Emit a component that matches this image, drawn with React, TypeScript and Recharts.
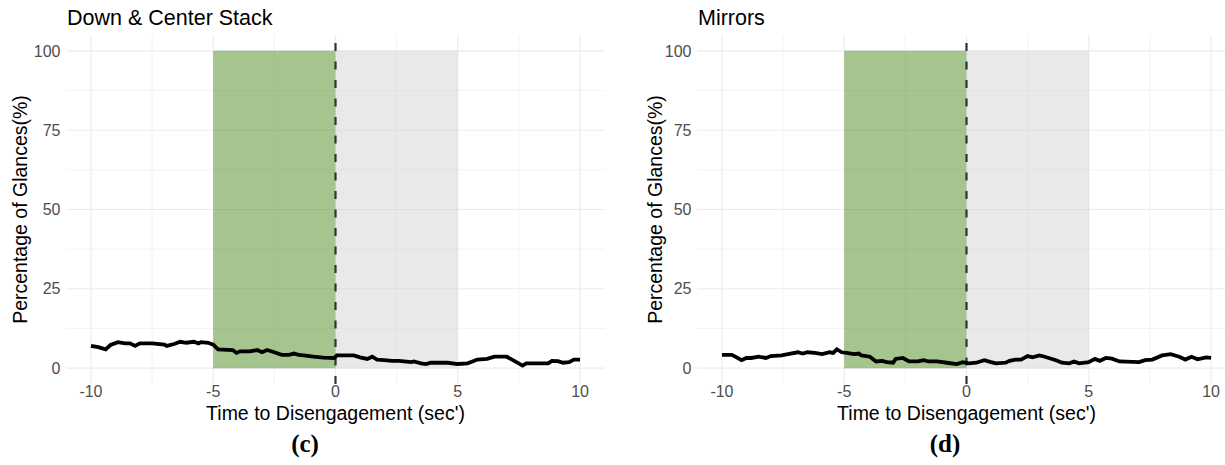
import React from 'react';
import {
  ComposedChart,
  Line,
  XAxis,
  YAxis,
  CartesianGrid,
  ReferenceArea,
  ReferenceLine,
} from 'recharts';

// axis breaks (ggplot style major + minor grid)
const xTicks = [-10, -5, 0, 5, 10];
const yTicks = [0, 25, 50, 75, 100];
const xMinor = [-7.5, -2.5, 2.5, 7.5];
const yMinor = [12.5, 37.5, 62.5, 87.5];

// (c) Down & Center Stack
const downTimes = [
  -10, -9.7, -9.4, -9.2, -8.9, -8.6, -8.4, -8.2, -8.0, -7.5,
  -7.0, -6.9, -6.6, -6.35, -6.1, -5.8, -5.6, -5.5, -5.2, -5.0,
  -4.8, -4.2, -4.05, -3.9, -3.5, -3.2, -3.0, -2.8, -2.5, -2.2,
  -1.9, -1.7, -1.5, -1.3, -0.9, -0.5, -0.05, 0.05, 0.75, 1.0,
  1.3, 1.5, 1.7, 2.0, 2.3, 2.6, 3.1, 3.2, 3.5, 3.7,
  3.9, 4.6, 5.0, 5.4, 5.6, 5.8, 6.2, 6.5, 7.0, 7.4,
  7.65, 7.8, 8.2, 8.7, 8.85, 9.1, 9.3, 9.55, 9.75, 10,
];
const downValues = [
  7.0, 6.6, 5.9, 7.3, 8.2, 7.8, 7.8, 7.0, 7.8, 7.8,
  7.4, 7.0, 7.6, 8.3, 8.0, 8.3, 7.8, 8.2, 8.0, 7.4,
  5.9, 5.7, 4.8, 5.3, 5.3, 5.7, 5.0, 5.7, 5.0, 4.2,
  4.2, 4.6, 4.2, 4.0, 3.6, 3.3, 3.2, 4.0, 4.0, 3.4,
  2.9, 3.6, 2.7, 2.5, 2.3, 2.3, 1.9, 2.1, 1.5, 1.3,
  1.7, 1.7, 1.3, 1.5, 2.1, 2.7, 2.9, 3.6, 3.6, 1.9,
  0.8, 1.5, 1.5, 1.5, 2.3, 2.2, 1.7, 1.9, 2.7, 2.7,
];

// (d) Mirrors
const mirrorTimes = [
  -10, -9.6, -9.4, -9.2, -9.0, -8.8, -8.5, -8.2, -8.0, -7.56,
  -7.3, -6.9, -6.7, -6.5, -6.2, -5.9, -5.6, -5.45, -5.3, -5.1,
  -4.9, -4.6, -4.4, -4.3, -3.95, -3.7, -3.45, -3.25, -3.0, -2.9,
  -2.6, -2.35, -2.0, -1.75, -1.55, -1.2, -0.8, -0.4, -0.15, 0.1,
  0.4, 0.73, 1.0, 1.2, 1.6, 1.76, 2.0, 2.23, 2.5, 2.7,
  2.98, 3.2, 3.66, 3.9, 4.2, 4.4, 4.6, 5.0, 5.25, 5.45,
  5.7, 5.95, 6.25, 7.06, 7.3, 7.6, 8.0, 8.35, 8.7, 8.95,
  9.2, 9.45, 9.8, 10,
];
const mirrorValues = [
  4.2, 4.2, 3.4, 2.5, 3.2, 3.2, 3.6, 3.2, 3.8, 4.0,
  4.4, 5.0, 4.6, 5.0, 4.8, 4.4, 5.0, 4.8, 5.9, 5.0,
  4.8, 4.4, 4.6, 4.0, 3.6, 2.1, 2.3, 1.9, 1.7, 2.9,
  3.2, 2.1, 2.1, 2.5, 2.1, 2.1, 1.7, 1.3, 1.9, 1.5,
  1.7, 2.5, 1.9, 1.5, 1.7, 2.3, 2.7, 2.7, 3.8, 3.4,
  4.0, 3.6, 2.5, 1.7, 1.5, 2.1, 1.5, 1.9, 2.9, 2.3,
  3.2, 3.0, 2.1, 1.9, 2.5, 2.7, 4.0, 4.4, 3.6, 2.7,
  3.6, 2.8, 3.4, 3.2,
];

const toRows = (times: number[], values: number[]) =>
  times.map((t, i) => ({ t, pct: values[i] }));

const sans = '"Liberation Sans", Arial, sans-serif';

interface PanelProps {
  left: number;
  title: string;
  caption: string;
  captionX: number;
  times: number[];
  values: number[];
  yLabelOffset: number;
}

function Panel({ left, title, caption, captionX, times, values, yLabelOffset }: PanelProps) {
  const data = toRows(times, values);
  return (
    <div style={{ position: 'absolute', left, top: 0, width: 620, height: 465 }}>
      <div
        style={{
          position: 'absolute',
          left: 67,
          top: 5,
          fontFamily: sans,
          fontSize: 21.5,
          lineHeight: '26px',
          color: '#000',
          whiteSpace: 'nowrap',
        }}
      >
        {title}
      </div>
      <ComposedChart
        width={620}
        height={465}
        data={data}
        margin={{ top: 35, right: 15.5, bottom: 45, left: 0 }}
      >
        <CartesianGrid
          horizontalValues={yMinor}
          verticalValues={xMinor}
          stroke="#ebebeb"
          strokeWidth={0.6}
        />
        <CartesianGrid
          horizontalValues={yTicks}
          verticalValues={xTicks}
          stroke="#ebebeb"
          strokeWidth={1.1}
        />
        <XAxis
          type="number"
          dataKey="t"
          domain={[-11, 11]}
          ticks={xTicks}
          axisLine={false}
          tickLine={false}
          tickSize={0}
          tickMargin={2}
          height={36}
          tick={{ fontSize: 16, fill: '#4d4d4d', fontFamily: sans }}
          label={{
            value: "Time to Disengagement (sec')",
            position: 'insideBottom',
            offset: 0,
            style: { fontSize: 19.5, fill: '#000', fontFamily: sans },
          }}
        />
        <YAxis
          type="number"
          domain={[-5, 105]}
          ticks={yTicks}
          axisLine={false}
          tickLine={false}
          tickSize={0}
          tickMargin={6}
          width={66.5}
          tick={{ fontSize: 16, fill: '#4d4d4d', fontFamily: sans }}
          label={{
            value: 'Percentage of Glances(%)',
            angle: -90,
            position: 'insideLeft',
            offset: yLabelOffset,
            style: { fontSize: 19.5, fill: '#000', fontFamily: sans, textAnchor: 'middle' },
          }}
        />
        <ReferenceArea x1={-5} x2={0} y1={0} y2={100} fill="#4e8a1c" fillOpacity={0.5} stroke="none" />
        <ReferenceArea x1={0} x2={5} y1={0} y2={100} fill="#d4d4d4" fillOpacity={0.5} stroke="none" />
        <ReferenceLine x={0} stroke="#333333" strokeWidth={2.2} strokeDasharray="8 10.5" />
        <Line
          type="linear"
          dataKey="pct"
          stroke="#000"
          strokeWidth={3.8}
          dot={false}
          isAnimationActive={false}
        />
      </ComposedChart>
      <div
        style={{
          position: 'absolute',
          left: captionX - 40,
          width: 80,
          top: 429,
          textAlign: 'center',
          fontFamily: '"Liberation Serif", "Times New Roman", serif',
          fontWeight: 'bold',
          fontSize: 25,
          lineHeight: '30px',
        }}
      >
        {caption}
      </div>
    </div>
  );
}

export default function App() {
  return (
    <div
      style={{
        position: 'absolute',
        left: 0,
        top: 0,
        width: 1225,
        height: 465,
        overflow: 'hidden',
        background: '#fff',
      }}
    >
      <Panel
        left={0}
        title="Down & Center Stack"
        caption="(c)"
        captionX={305}
        times={downTimes}
        values={downValues}
        yLabelOffset={20}
      />
      <Panel
        left={631}
        title="Mirrors"
        caption="(d)"
        captionX={314}
        times={mirrorTimes}
        values={mirrorValues}
        yLabelOffset={24}
      />
    </div>
  );
}
